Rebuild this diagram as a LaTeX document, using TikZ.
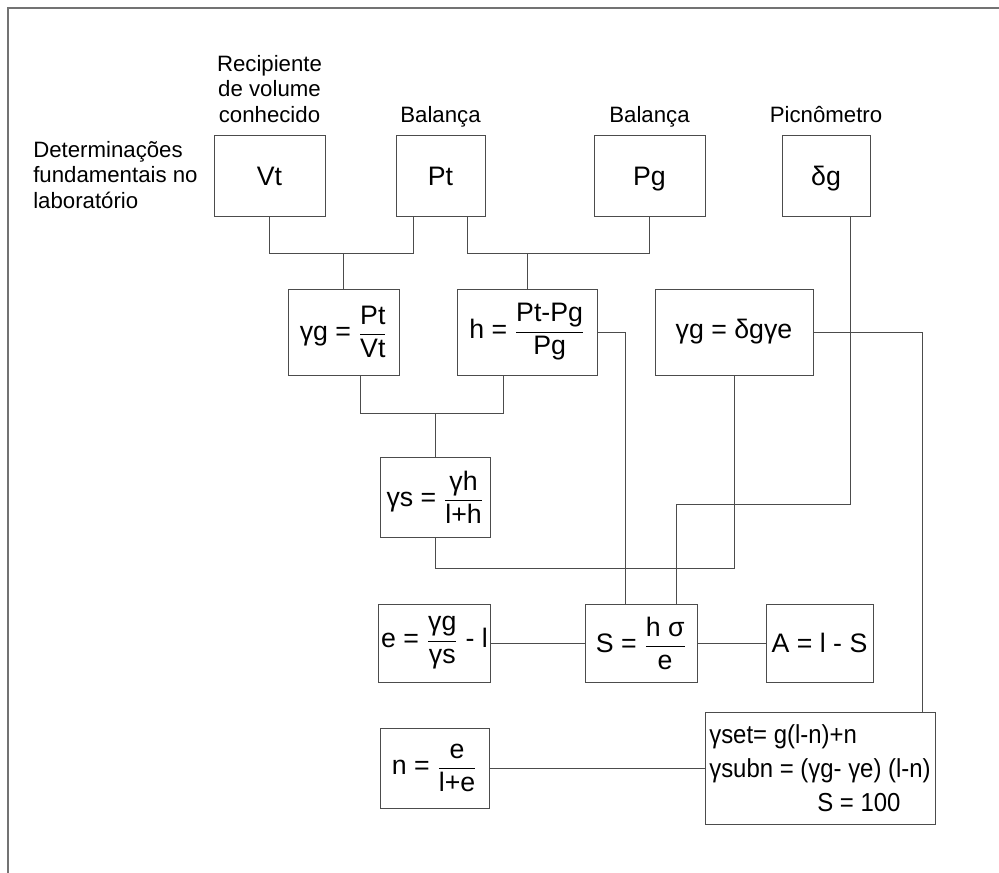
\documentclass[tikz,border=0pt]{standalone}
\usepackage{amsmath}
\usepackage{fontspec}
\setmainfont{Liberation Sans}
\newfontfamily\narrowfont[FakeStretch=0.92]{Liberation Sans}
\usetikzlibrary{calc,positioning}

\begin{document}
\begin{tikzpicture}[
  x=0.025cm, y=-0.025cm,
  box/.style={rectangle, draw=black!70, line width=0.6pt, inner sep=2pt, align=center, font=\fontsize{19}{22}\selectfont},
  topbox/.style={box, text height=13.7pt, text depth=0pt},
  sz/.style 2 args={minimum width=#1*0.025cm, minimum height=#2*0.025cm},
  lbl/.style={align=center, inner sep=0pt, font=\fontsize{15.8}{18}\selectfont},
  wire/.style={draw=black!70, line width=0.6pt}
]
  \useasboundingbox (0,0) rectangle (999,873);
  \draw[black!55, line width=1pt] (8,873) -- (8,8) -- (999,8);

  % laboratory measurements
  \node[topbox, sz={111}{81}] (Vt) at (269.5,175.5) {Vt};
  \node[topbox, sz={89}{81}]  (Pt) at (440.5,175.5) {Pt};
  \node[topbox, sz={111}{81}] (Pg) at (649.5,175.5) {Pg};
  \node[topbox, sz={88}{81}]  (dg) at (826,175.5)   {δg};

  \node[lbl, anchor=south] (recip) at ($(Vt.north)+(0,-12)$) {Recipiente\\de volume\\conhecido};
  \node[lbl, anchor=base] (bal1) at ($(Pt.north)+(0,-12)$) {Balança};
  \node[lbl, anchor=base] (bal2) at ($(Pg.north)+(0,-12)$) {Balança};
  \node[lbl, anchor=base] (picno) at ($(dg.north)+(0,-12)$) {Picnômetro};
  \node[lbl, align=left, anchor=north west] (det) at (33,141) {Determinações\\fundamentais no\\laboratório};

  % derived quantities
  \node[box, sz={111}{86}] (gg) at (343.5,332) {γg = $\dfrac{\text{Pt}}{\text{Vt}}$};
  \node[box, sz={140}{86}] (h)  at (527,332)   {h = $\dfrac{\text{Pt-Pg}}{\text{Pg}}$};
  \node[box, sz={158}{86}] (gd) at (734,332)   {γg = δgγe};
  \node[box, sz={110}{80}] (gs) at (435,497)   {γs = $\dfrac{\text{γh}}{\text{l+h}}$};

  \node[box, sz={109}{78}] (e) at (434.5,643) {e = $\dfrac{\text{γg}}{\text{γs}}$ - l};
  \node[box, sz={112}{78}] (S) at (641,643)   {S = $\dfrac{\text{h σ}}{\text{e}}$};
  \node[box, sz={107}{78}] (A) at (819.5,643) {A = l - S};
  \node[box, sz={109}{80}] (n) at (434.5,768) {n = $\dfrac{\text{e}}{\text{l+e}}$};
  \node[box, sz={230}{112}, align=left, font=\narrowfont\fontsize{18.5}{24}\selectfont] (sat) at (820,768)
    {γset= g(l-n)+n\\γsubn = (γg- γe) (l-n)\\\hspace*{2.7cm}S = 100};

  % connection levels
  \coordinate (busA) at (0,253);
  \coordinate (busB) at (0,413);
  \coordinate (busD) at (0,504);
  \coordinate (busC) at (0,568);
  \coordinate (ptL) at ($(Pt.south west)!0.2!(Pt.south east)$);
  \coordinate (ptR) at ($(Pt.south west)!0.8!(Pt.south east)$);
  \coordinate (ggB) at ($(gg.south west)!0.65!(gg.south east)$);
  \coordinate (hB)  at ($(h.south west)!0.33!(h.south east)$);
  \coordinate (dgB) at ($(dg.south west)!0.78!(dg.south east)$);
  \coordinate (sL)  at ($(S.north west)!0.366!(S.north east)$);
  \coordinate (sR)  at ($(S.north west)!0.81!(S.north east)$);
  \coordinate (satT) at ($(sat.north west)!0.943!(sat.north east)$);

  \draw[wire] (Vt.south) -- (Vt.south |- busA) -| (ptL);
  \draw[wire] (gg.north) -- (gg.north |- busA);
  \draw[wire] (ptR) -- (ptR |- busA) -| (Pg.south);
  \draw[wire] (h.north) -- (h.north |- busA);

  \draw[wire] (ggB) -- (ggB |- busB) -| (hB);
  \draw[wire] (gs.north) -- (gs.north |- busB);
  \draw[wire] (gs.south) -- (gs.south |- busC) -| (gd.south);

  \draw[wire] (h.east) -| (sL);
  \draw[wire] (dgB) -- (dgB |- busD) -| (sR);
  \draw[wire] (gd.east) -| (satT);

  \draw[wire] (e) -- (S);
  \draw[wire] (S) -- (A);
  \draw[wire] (n) -- (sat);
\end{tikzpicture}
\end{document}
